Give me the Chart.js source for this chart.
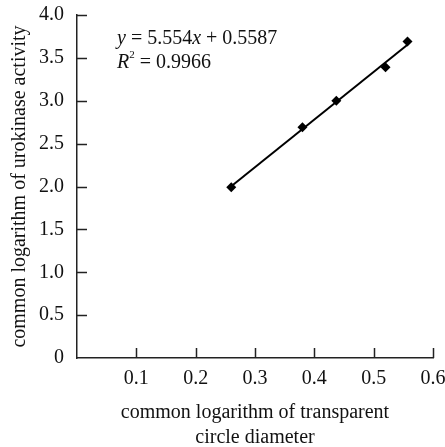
<!DOCTYPE html>
<html>
<head>
<meta charset="utf-8">
<script src="https://cdn.jsdelivr.net/npm/chart.js@4/dist/chart.umd.min.js"></script>
<style>
  html, body { margin: 0; padding: 0; background: #fff; }
</style>
</head>
<body>
<canvas id="canvas" width="445" height="447"></canvas>
<script>
// measured points (log10 of circle diameter vs log10 of urokinase activity)
const diameterLog = [0.26, 0.38, 0.437, 0.52, 0.557];
const activityLog = [1.99, 2.69, 3.0, 3.39, 3.69];

// fitted line end points
const fitX = [0.26, 0.557];
const fitY = [2.003, 3.652];

const xTicks = [0, 0.1, 0.2, 0.3, 0.4, 0.5, 0.6];
const yTicks = [0, 0.5, 1.0, 1.5, 2.0, 2.5, 3.0, 3.5, 4.0];

const FONT = "'Liberation Serif', 'Times New Roman', serif";
const yTitle = 'common logarithm of urokinase activity';

// inward tick marks, y title and equation text
const extras = {
  id: 'extras',
  afterDraw: (chart) => {
    const {ctx, chartArea, scales} = chart;
    ctx.save();
    ctx.strokeStyle = '#222';
    ctx.lineWidth = 1.5;
    ctx.beginPath();
    yTicks.forEach((v) => {
      if (v === 0) return;
      const py = Math.round(scales.y.getPixelForValue(v)) + 0.5;
      ctx.moveTo(chartArea.left, py);
      ctx.lineTo(chartArea.left + 10, py);
    });
    xTicks.forEach((v) => {
      if (v === 0) return;
      const px = Math.round(scales.x.getPixelForValue(v)) + 0.5;
      ctx.moveTo(px, chartArea.bottom);
      ctx.lineTo(px, chartArea.bottom - 10);
    });
    ctx.stroke();

    ctx.fillStyle = '#111';

    // y axis title
    ctx.save();
    ctx.translate(20, (chartArea.top + chartArea.bottom) / 2);
    ctx.rotate(-Math.PI / 2);
    ctx.font = '20px ' + FONT;
    ctx.textAlign = 'center';
    ctx.textBaseline = 'middle';
    ctx.fillText(yTitle, 0, 0);
    ctx.restore();

    // regression text
    ctx.textBaseline = 'alphabetic';
    let x = chartArea.left + 40;
    let y = chartArea.top + 29;
    const parts = [
      ['italic', 'y'], ['normal', ' = 5.554'], ['italic', 'x'], ['normal', ' + 0.5587']
    ];
    parts.forEach(([style, t]) => {
      ctx.font = style + ' 20px ' + FONT;
      ctx.fillText(t, x, y);
      x += ctx.measureText(t).width;
    });
    x = chartArea.left + 40;
    y += 24;
    ctx.font = 'italic 20px ' + FONT;
    ctx.fillText('R', x, y);
    x += ctx.measureText('R').width;
    ctx.font = '11px ' + FONT;
    ctx.fillText('2', x, y - 10);
    x += ctx.measureText('2').width;
    ctx.font = '20px ' + FONT;
    ctx.fillText(' = 0.9966', x, y);
    ctx.restore();
  }
};

new Chart(document.getElementById('canvas').getContext('2d'), {
  type: 'scatter',
  data: {
    datasets: [{
      label: 'fit',
      data: fitX.map((v, i) => ({x: v, y: fitY[i]})),
      showLine: true,
      borderColor: '#000',
      borderWidth: 2,
      pointRadius: 0,
      order: 2
    }, {
      label: 'measured',
      data: diameterLog.map((v, i) => ({x: v, y: activityLog[i]})),
      pointStyle: 'rectRot',
      pointRadius: 5,
      backgroundColor: '#000',
      borderColor: '#000',
      borderWidth: 0,
      order: 1
    }]
  },
  options: {
    responsive: false,
    animation: false,
    layout: { padding: { top: 15, right: 12, left: 0, bottom: 0 } },
    plugins: {
      legend: { display: false },
      tooltip: { enabled: false }
    },
    scales: {
      x: {
        type: 'linear',
        min: 0,
        max: 0.6,
        afterBuildTicks: (s) => { s.ticks = xTicks.map((v) => ({value: v})); },
        afterFit: (s) => { s.height = 89; s.paddingLeft = 0; s.paddingRight = 0; },
        grid: { display: false, drawTicks: false },
        border: { display: true, color: '#222', width: 1.5 },
        ticks: {
          padding: 9,
          color: '#111',
          font: { family: FONT, size: 20 },
          maxRotation: 0,
          callback: (v) => v === 0 ? '' : v.toFixed(1)
        },
        title: {
          display: true,
          text: ['common logarithm of transparent', 'circle diameter'],
          color: '#111',
          font: { family: FONT, size: 20, lineHeight: 1.25 },
          padding: { top: 9, bottom: -3 }
        }
      },
      y: {
        type: 'linear',
        min: 0,
        max: 4,
        afterBuildTicks: (s) => { s.ticks = yTicks.map((v) => ({value: v})); },
        afterFit: (s) => { s.width = 77; s.paddingTop = 0; s.paddingBottom = 0; },
        grid: { display: false, drawTicks: false },
        border: { display: true, color: '#222', width: 1.5 },
        ticks: {
          padding: 13,
          color: '#111',
          font: { family: FONT, size: 20 },
          callback: (v) => v === 0 ? '0' : v.toFixed(1)
        },
        title: { display: false }
      }
    }
  },
  plugins: [extras]
});
</script>
</body>
</html>
